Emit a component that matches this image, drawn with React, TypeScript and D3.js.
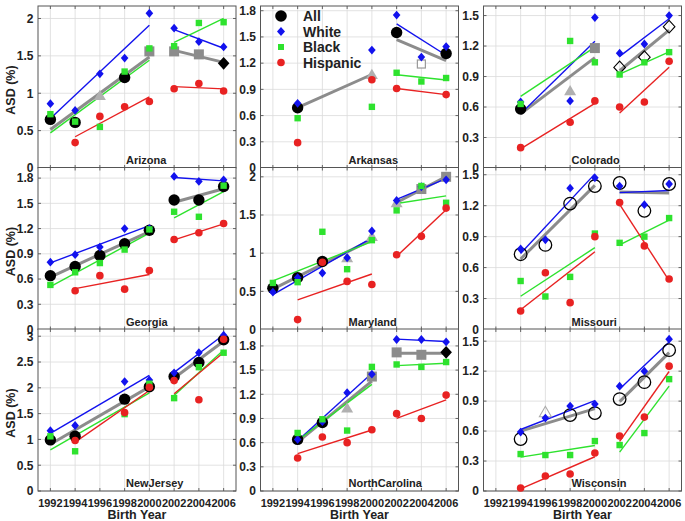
import React from 'react';
import * as d3 from 'd3';

const YEARS = [1992, 1994, 1996, 1998, 2000, 2002, 2004, 2006];
const STATES = ["Arizona", "Arkansas", "Colorado", "Georgia", "Maryland", "Missouri", "NewJersey", "NorthCarolina", "Wisconsin"];
const Y_MAX = [2.167, 1.854, 1.594, 1.926, 2.122, 1.57, 3.14, 2.01, 1.622];
const T5 = [0, 0.5, 1, 1.5, 2];
const T3a = [0, 0.3, 0.6, 0.9, 1.2, 1.5, 1.8];
const T3b = [0, 0.3, 0.6, 0.9, 1.2, 1.5];
const T_NJ = [0, 0.5, 1, 1.5, 2, 2.5, 3];
const Y_TICKS = [T5, T3a, T3b, T3a, T5, T3b, T_NJ, T3a, T3b];

type V = number | null;
// "All" series (marker code: c black circle, o open circle, t gray triangle, T open triangle, s gray square, q open square, d black diamond, D open diamond)
const ALL: V[][] = [
  [0.65, 0.61, 0.97, 1.21, 1.56, 1.56, 1.52, 1.40],
  [null, 0.69, null, null, 1.07, 1.55, 1.19, 1.31],
  [null, 0.58, null, 0.76, 1.18, 0.99, 1.09, 1.39],
  [0.64, 0.75, 0.88, 1.02, 1.18, 1.54, 1.54, 1.70],
  [0.54, 0.68, 0.89, 0.94, 1.22, 1.66, 1.84, 2.00],
  [null, 0.73, 0.82, 1.22, 1.39, 1.42, 1.15, 1.41],
  [0.99, 1.06, null, 1.78, 2.02, 2.22, 2.49, 2.93],
  [null, 0.64, 0.85, 1.03, 1.42, 1.72, 1.69, 1.72],
  [null, 0.52, 0.79, 0.76, 0.78, 0.92, 1.09, 1.41],
];
const ALL_MARK: string[] = [
  "cctcsssd",
  "-c--tcqc",
  "-c-tsDDD",
  "cccccccc",
  "ccctttss",
  "-ooooooo",
  "cc-ccccc",
  "-cctsssd",
  "-oToooooo",
];
const WHITE: V[][] = [
  [0.86, 0.77, 1.26, 1.47, 2.07, 1.87, 1.69, 1.62],
  [null, 0.74, null, null, 1.35, 1.75, 1.27, 1.39],
  [null, 0.65, null, 0.66, 1.48, 1.13, 1.22, 1.50],
  [0.80, 0.89, 0.98, 1.20, 1.20, 1.82, 1.76, 1.78],
  [0.49, 0.68, 0.74, 0.94, 1.29, 1.69, 1.87, 1.96],
  [null, 0.78, 0.87, 1.37, 1.47, 1.39, 1.21, 1.41],
  [1.17, 1.27, null, 2.12, 2.15, 2.29, 2.68, 3.02],
  [null, 0.64, 0.86, 1.22, 1.45, 1.88, 1.88, 1.85],
  [null, 0.59, 0.73, 0.85, 0.87, 1.05, 1.20, 1.52],
];
const BLACK: V[][] = [
  [0.72, 0.62, 0.55, 1.29, 1.60, 1.63, 1.94, 1.95],
  [null, 0.57, null, null, 0.70, 1.09, 0.99, 1.03],
  [null, 0.63, null, 1.25, 1.04, 0.92, 1.04, 1.14],
  [0.53, 0.68, 0.79, 0.95, 1.19, 1.40, 1.34, 1.71],
  [0.61, 0.62, 1.28, 0.79, 1.17, 1.56, 1.88, 1.66],
  [null, 0.47, 0.32, 0.51, 0.93, 0.84, 0.90, 1.08],
  [1.06, 0.77, null, 1.49, 2.08, 1.80, 2.40, 2.68],
  [null, 0.72, 0.89, 0.75, 1.54, 1.57, 1.54, 1.60],
  [null, 0.37, 0.36, 0.36, 0.50, 0.46, 0.58, 1.12],
];
const HISP: V[][] = [
  [null, 0.34, 0.69, 0.82, 0.89, 1.06, 1.13, 1.03],
  [null, 0.29, null, null, 1.01, 0.91, null, 0.84],
  [null, 0.20, null, 0.45, 0.66, 0.60, 0.65, 1.05],
  [null, 0.46, 0.64, 0.48, 0.70, 1.07, 1.15, 1.26],
  [null, 0.13, 0.88, 0.63, 0.59, 0.98, 1.22, 1.59],
  [null, 0.18, 0.55, 0.26, 0.90, 1.23, 0.81, 0.49],
  [null, 0.98, null, 1.52, 2.01, 2.14, 1.77, 2.94],
  [null, 0.41, 0.67, 0.60, 0.76, 0.96, 0.90, 1.19],
  [null, 0.03, 0.15, 0.17, 0.38, 0.55, 0.74, 1.25],
];
// series without a fitted line in the first period (1992-2000)
const NO_FIT_P1: Record<string, string[]> = { Arkansas: ["white", "black", "hispanic"] };

const BLUE = "#1212ee";
const GREEN = "#2ee22e";
const RED = "#e82222";
const GRAY = "#8c8c8c";
const FONT = "'Liberation Sans', Arial, Helvetica, sans-serif";

const COL_X = [38, 260.5, 483.5];
const PW = 198;
const ROW_Y = [6, 167.5, 329];
const PH = 162;

function fitLine(xs: number[], ys: number[]) {
  const mx = d3.mean(xs) as number;
  const my = d3.mean(ys) as number;
  let sxy = 0, sxx = 0;
  xs.forEach((x, i) => { sxy += (x - mx) * (ys[i] - my); sxx += (x - mx) * (x - mx); });
  const b = sxx ? sxy / sxx : 0;
  const x0 = d3.min(xs) as number, x1 = d3.max(xs) as number;
  return [[x0, my + b * (x0 - mx)], [x1, my + b * (x1 - mx)]];
}

function allMarker(code: string, cx: number, cy: number, key: string) {
  switch (code) {
    case "c": return <circle key={key} cx={cx} cy={cy} r={5.7} fill="#000" />;
    case "o": return <circle key={key} cx={cx} cy={cy} r={6.3} fill="none" stroke="#000" strokeWidth={1.3} />;
    case "t": return <polygon key={key} points={`${cx - 6},${cy + 4.6} ${cx + 6},${cy + 4.6} ${cx},${cy - 5.8}`} fill="#b0b0b0" />;
    case "T": return <polygon key={key} points={`${cx - 6},${cy + 4.6} ${cx + 6},${cy + 4.6} ${cx},${cy - 5.8}`} fill="none" stroke="#aaa" strokeWidth={1.1} />;
    case "s": return <rect key={key} x={cx - 5} y={cy - 5} width={10} height={10} fill={GRAY} />;
    case "q": return <rect key={key} x={cx - 4} y={cy - 4} width={8} height={8} fill="#fff" stroke="#999" strokeWidth={1.2} />;
    case "d": return <polygon key={key} points={`${cx},${cy - 6.3} ${cx + 5.8},${cy} ${cx},${cy + 6.3} ${cx - 5.8},${cy}`} fill="#000" />;
    case "D": return <polygon key={key} points={`${cx},${cy - 6.3} ${cx + 5.8},${cy} ${cx},${cy + 6.3} ${cx - 5.8},${cy}`} fill="none" stroke="#000" strokeWidth={1.1} />;
    default: return null;
  }
}

function diamond(cx: number, cy: number, hw: number, hh: number, fill: string, key: string) {
  return <polygon key={key} points={`${cx},${cy - hh} ${cx + hw},${cy} ${cx},${cy + hh} ${cx - hw},${cy}`} fill={fill} />;
}

function Panel({ idx }: { idx: number }) {
  const col = idx % 3, row = Math.floor(idx / 3);
  const x0 = COL_X[col], y0 = ROW_Y[row];
  const state = STATES[idx];
  const x = d3.scaleLinear().domain([1991, 2007]).range([x0, x0 + PW]);
  const y = d3.scaleLinear().domain([0, Y_MAX[idx]]).range([y0 + PH, y0]);
  const ticks = Y_TICKS[idx];
  const series = [
    { name: "all", vals: ALL[idx], color: GRAY, w: 3 },
    { name: "white", vals: WHITE[idx], color: BLUE, w: 1.4 },
    { name: "black", vals: BLACK[idx], color: GREEN, w: 1.4 },
    { name: "hispanic", vals: HISP[idx], color: RED, w: 1.4 },
  ];
  const line = d3.line<number[]>().x(d => x(d[0])).y(d => y(d[1]));
  const lines: JSX.Element[] = [];
  series.forEach(s => {
    [0, 1].forEach(p => {
      if (p === 0 && NO_FIT_P1[state] && NO_FIT_P1[state].includes(s.name)) return;
      const xs: number[] = [], ys: number[] = [];
      YEARS.forEach((yr, i) => {
        const v = s.vals[i];
        if (v == null) return;
        if ((p === 0 && yr <= 2000) || (p === 1 && yr >= 2002)) { xs.push(yr); ys.push(v); }
      });
      if (xs.length < 2) return;
      lines.push(<path key={`l-${s.name}-${p}`} d={line(fitLine(xs, ys)) || ""} fill="none" stroke={s.color} strokeWidth={s.w} />);
    });
  });
  const marks: JSX.Element[] = [];
  YEARS.forEach((yr, i) => {
    const v = ALL[idx][i];
    if (v != null) marks.push(allMarker(ALL_MARK[idx][i], x(yr), y(v), `a${i}`) as JSX.Element);
  });
  YEARS.forEach((yr, i) => {
    const v = WHITE[idx][i];
    if (v != null) marks.push(diamond(x(yr), y(v), 3.8, 4.4, BLUE, `w${i}`));
  });
  YEARS.forEach((yr, i) => {
    const v = BLACK[idx][i];
    if (v != null) marks.push(<rect key={`b${i}`} x={x(yr) - 3.2} y={y(v) - 3.2} width={6.4} height={6.4} fill={GREEN} />);
  });
  YEARS.forEach((yr, i) => {
    const v = HISP[idx][i];
    if (v != null) marks.push(<circle key={`h${i}`} cx={x(yr)} cy={y(v)} r={3.8} fill={RED} />);
  });

  return (
    <g>
      <rect x={x0} y={y0} width={PW} height={PH} fill="#fff" />
      {YEARS.map(yr => (
        <line key={`gx${yr}`} x1={x(yr)} x2={x(yr)} y1={y0} y2={y0 + PH} stroke="#dadada" strokeWidth={0.8} />
      ))}
      {ticks.map(t => (
        <line key={`gy${t}`} x1={x0} x2={x0 + PW} y1={y(t)} y2={y(t)} stroke="#dadada" strokeWidth={0.8} />
      ))}
      {YEARS.map(yr => (
        <g key={`tx${yr}`}>
          <line x1={x(yr)} x2={x(yr)} y1={y0 + PH} y2={y0 + PH - 3} stroke="#444" strokeWidth={0.8} />
          <line x1={x(yr)} x2={x(yr)} y1={y0} y2={y0 + 3} stroke="#444" strokeWidth={0.8} />
        </g>
      ))}
      {ticks.map(t => (
        <g key={`ty${t}`}>
          <line x1={x0} x2={x0 + 3} y1={y(t)} y2={y(t)} stroke="#444" strokeWidth={0.8} />
          <line x1={x0 + PW} x2={x0 + PW - 3} y1={y(t)} y2={y(t)} stroke="#444" strokeWidth={0.8} />
          <text x={x0 - 4.5} y={y(t)} dy="0.36em" textAnchor="end" fontFamily={FONT} fontWeight="bold" fontSize={12} fill="#222">{String(t)}</text>
        </g>
      ))}
      <rect x={x0} y={y0} width={PW} height={PH} fill="none" stroke="#555" strokeWidth={1} />
      <text x={x0 + 88} y={y0 + PH - 4} fontFamily={FONT} fontWeight="bold" fontSize={11} fill="#222">{state}</text>
      {lines}
      {marks}
      {row === 2 && YEARS.map(yr => (
        <text key={`xl${yr}`} x={x(yr)} y={506.5} textAnchor="middle" fontFamily={FONT} fontWeight="bold" fontSize={11} fill="#222">{String(yr)}</text>
      ))}
      {row === 2 && (
        <text x={x0 + PW / 2} y={518.5} textAnchor="middle" fontFamily={FONT} fontWeight="bold" fontSize={12.5} fill="#222">Birth Year</text>
      )}
      {col === 0 && (
        <text transform={`translate(14.5,${y0 + PH / 2 + 3}) rotate(-90)`} textAnchor="middle" fontFamily={FONT} fontWeight="bold" fontSize={12.5} fill="#222">ASD (%)</text>
      )}
    </g>
  );
}

const LEGEND = ["All", "White", "Black", "Hispanic"];

function Legend() {
  const mx = 281, tx = 303, ys = [16, 31.5, 47, 62.5];
  return (
    <g>
      <circle cx={mx} cy={ys[0]} r={5.8} fill="#000" />
      {diamond(mx, ys[1], 4, 4.5, BLUE, "lw")}
      <rect x={mx - 3} y={ys[2] - 3} width={6} height={6} fill={GREEN} />
      <circle cx={mx} cy={ys[3]} r={3.8} fill={RED} />
      {LEGEND.map((l, i) => (
        <text key={l} x={tx} y={ys[i]} dy="0.36em" fontFamily={FONT} fontWeight="bold" fontSize={14} fill="#222">{l}</text>
      ))}
    </g>
  );
}

export default function App() {
  return (
    <svg width={685} height={521} style={{ position: 'absolute', left: 0, top: 0, background: '#fff' }}>
      <rect width={685} height={521} fill="#fff" />
      {STATES.map((_, i) => <Panel key={i} idx={i} />)}
      <Legend />
    </svg>
  );
}
